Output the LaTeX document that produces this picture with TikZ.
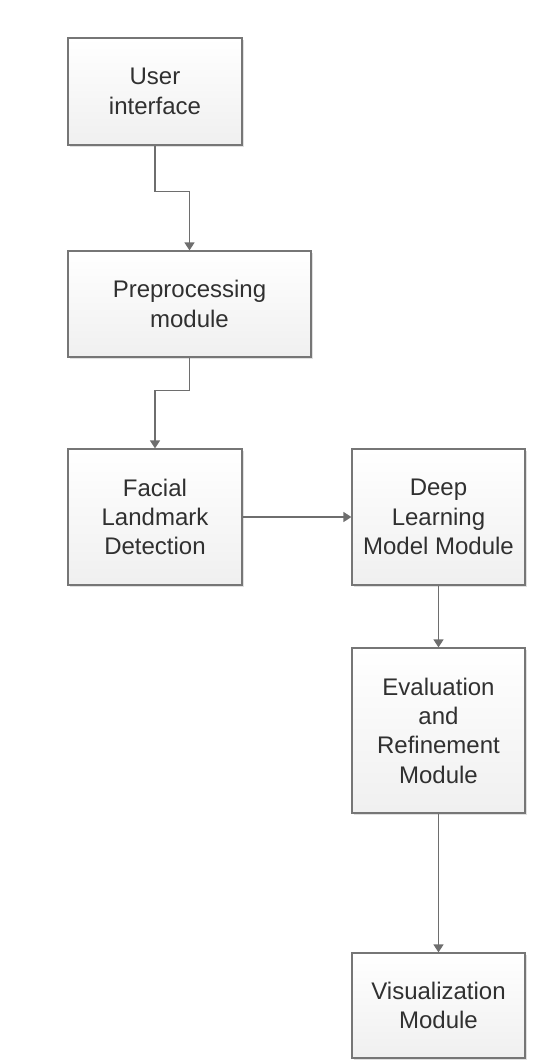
\documentclass[tikz,border=0pt]{standalone}
\usepackage{fontspec}
\setmainfont{Liberation Sans}
\usetikzlibrary{arrows.meta,shadows}
\definecolor{boxline}{HTML}{767676}
\definecolor{boxtext}{HTML}{303030}
\definecolor{wire}{HTML}{6E6E6E}
\tikzset{
  block/.style={draw=boxline, line width=1.2pt, top color=white, bottom color=black!6,
    drop shadow={shadow xshift=1.6pt, shadow yshift=-1.6pt, fill=black, opacity=0.12},
    align=center, text=boxtext, inner sep=2pt,
    font=\fontsize{24}{29.3}\selectfont},
  conn/.style={draw=wire, line width=1.4pt, -{Triangle[length=8pt,width=10pt]}}
}
\begin{document}
\begin{tikzpicture}[x=1pt,y=-1pt]
\useasboundingbox (0,0) rectangle (554,1061);
\node[block, minimum width=174pt, minimum height=107pt] (ui)   at (155,91.5)   {User\\interface};
\node[block, minimum width=243pt, minimum height=106pt] (pre)  at (189.5,304)  {Preprocessing\\module};
\node[block, minimum width=174pt, minimum height=136pt] (fac)  at (155,517)    {Facial\\Landmark\\Detection};
\node[block, minimum width=173pt, minimum height=136pt] (deep) at (438.5,517)  {Deep\\Learning\\Model Module};
\node[block, minimum width=173pt, minimum height=165pt] (eval) at (438.5,730.5){Evaluation\\and\\Refinement\\Module};
\node[block, minimum width=173pt, minimum height=105pt] (vis)  at (438.5,1005.5){Visualization\\Module};

\draw[conn] (ui.south) -- ++(0,46) -| (pre.north);
\draw[conn] (pre.south) -- ++(0,33) -| (fac.north);
\draw[conn] (fac.east) -- (deep.west);
\draw[conn] (deep.south) -- (eval.north);
\draw[conn] (eval.south) -- (vis.north);
\end{tikzpicture}
\end{document}
